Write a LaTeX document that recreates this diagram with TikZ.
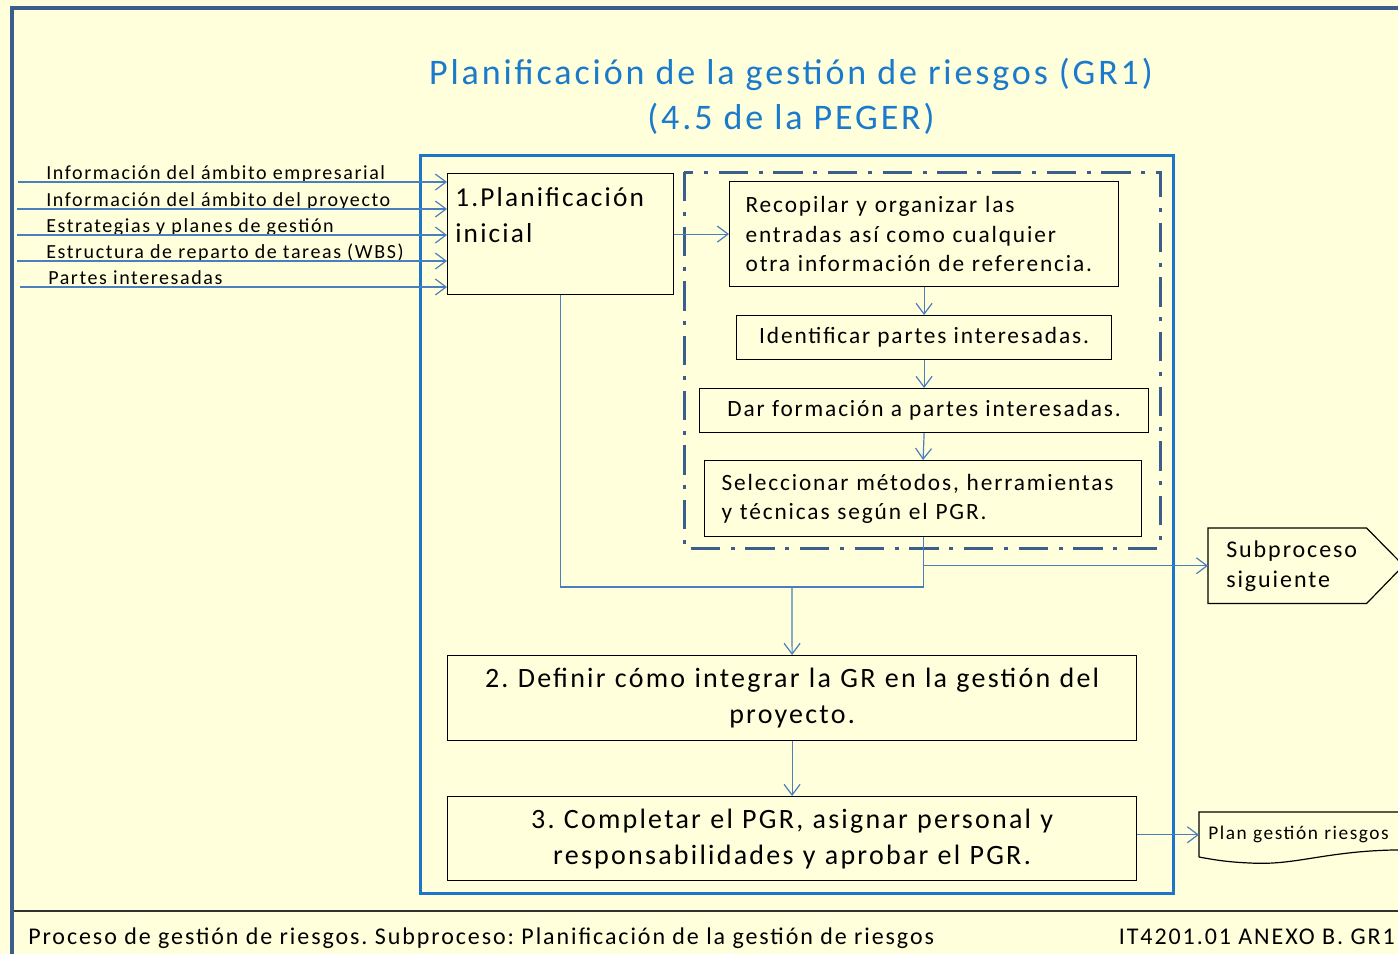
\documentclass[tikz,border=0pt]{standalone}
\usepackage{fontspec}
\setmainfont{Carlito}[LetterSpace=8]
\usetikzlibrary{arrows.meta}
\frenchspacing

\definecolor{fondo}{HTML}{FFFFDC}
\definecolor{titulo}{HTML}{1A7ACC}
\definecolor{marco}{HTML}{3B5E8C}
\definecolor{azul}{HTML}{1B75C9}
\definecolor{linea}{HTML}{4A7EBF}

\tikzset{
    caja/.style={draw=black, line width=0.9pt, inner sep=0pt},
    flecha/.style={draw=linea, line width=0.9pt, -{Straight Barb[length=8pt,width=12pt]}},
    conector/.style={draw=linea, line width=0.9pt},
    entrada/.style={anchor=base west, inner sep=0pt, font=\fontsize{15pt}{16pt}\selectfont},
}

\begin{document}
\begin{tikzpicture}[x=0.75pt, y=-0.75pt]

        \useasboundingbox (0, 0) rectangle (1398, 954);
        \fill[fondo] (0, 0) rectangle (1398, 954);

        \draw[marco, line width=3pt] (12, 954) -- (12, 8) -- (1398, 8);
        \draw[black!80, line width=1.5pt] (14, 911) -- (1398, 911);

        \node[titulo, align=center, font=\fontsize{27pt}{34pt}\selectfont] (tit) at (791, 96)
            {Planificación de la gestión de riesgos (GR1)\\(4.5 de la PEGER)};

        \draw[azul, line width=2.25pt] (420, 155) rectangle (1173, 893);
        \draw[marco, line width=2.25pt, dash pattern=on 22pt off 8pt on 3pt off 8pt]
            (684, 172) rectangle (1160, 548);

        % caja de planificacion inicial
        \node[caja, anchor=north west, minimum width=169.5pt, minimum height=90.75pt] (inicial) at (447, 173) {};
        \node[anchor=north west, align=left, inner xsep=6pt, inner ysep=11pt, font=\fontsize{20.5pt}{27pt}\selectfont]
            (inicialtxt) at (inicial.north west) {1.Planificación\\inicial};

        \begin{scope}[every node/.append style={font=\fontsize{17.5pt}{22pt}\selectfont}]
            \node[caja, anchor=north west, text width=267.75pt, inner xsep=12pt, minimum height=78.75pt, align=left]
                (recop) at (729, 181) {Recopilar y organizar las\\entradas así como cualquier\\otra información de referencia.};
            \node[caja, anchor=north west, minimum width=281.25pt, minimum height=33pt]
                (ident) at (736, 315) {Identificar partes interesadas.};
            \node[caja, anchor=north west, minimum width=336.75pt, minimum height=33pt]
                (dar) at (699, 388) {Dar formación a partes interesadas.};
            \node[caja, anchor=north west, text width=302.25pt, inner xsep=12.75pt, minimum height=57pt, align=left]
                (selec) at (704, 460) {Seleccionar métodos, herramientas\\y técnicas según el PGR.};
        \end{scope}

        \begin{scope}[every node/.append style={font=\fontsize{21pt}{27pt}\selectfont}]
            \node[caja, anchor=north west, text width=516.75pt, minimum height=63.75pt, align=center]
                (defin) at (447, 655) {2. Definir cómo integrar la GR en la gestión del\\proyecto.};
            \node[caja, anchor=north west, text width=516.75pt, minimum height=63pt, align=center]
                (compl) at (447, 796) {3. Completar el PGR, asignar personal y\\responsabilidades y aprobar el PGR.};
        \end{scope}

        % salidas
        \node[anchor=north west, text width=91.5pt, inner xsep=13.5pt, minimum height=56.25pt, align=left,
            font=\fontsize{18pt}{22.5pt}\selectfont] (sub) at (1208, 528) {Subproceso\\siguiente};
        \draw[caja] (sub.north west) -- (sub.north east) -- (1403.5, 565.5) -- (sub.south east) -- (sub.south west) -- cycle;

        \node[anchor=north west, text width=152.25pt, inner xsep=6.75pt, minimum height=33.75pt, align=left,
            font=\fontsize{14.5pt}{16pt}\selectfont] (pgr) at (1199, 812) {Plan gestión riesgos};
        \draw[caja] (1199, 857) -- (1199, 812) -- (1420, 812) -- (1420, 850)
            .. controls (1330, 848) and (1300, 866) .. (1250, 863)
            .. controls (1225, 862) and (1210, 859) .. (1199, 857);

        % entradas
        \coordinate (e1) at (18, 182);
        \coordinate (e2) at (17, 209);
        \coordinate (e3) at (17, 235);
        \coordinate (e4) at (17, 261);
        \coordinate (e5) at (20, 287);
        \node[entrada] (l1) at (46, 179) {Información del ámbito empresarial};
        \node[entrada] (l2) at (46, 206) {Información del ámbito del proyecto};
        \node[entrada] (l3) at (46, 232) {Estrategias y planes de gestión};
        \node[entrada] (l4) at (46, 258) {Estructura de reparto de tareas (WBS)};
        \node[entrada] (l5) at (48, 284) {Partes interesadas};
        \draw[flecha] (e1) -- (e1 -| inicial.west);
        \draw[flecha] (e2) -- (e2 -| inicial.west);
        \draw[flecha] (e3) -- (e3 -| inicial.west);
        \draw[flecha] (e4) -- (e4 -| inicial.west);
        \draw[flecha] (e5) -- (e5 -| inicial.west);

        \draw[flecha] (inicial.east) -- (recop.west);
        \draw[flecha] (recop.south) -- (ident.north);
        \draw[flecha] (ident.south) -- (dar.north);
        \draw[flecha] (dar.south) -- (selec.north);

        \coordinate (union) at (792, 587);
        \draw[conector] (inicial.south) |- (union) -| (selec.south);
        \draw[flecha] (union) -- (defin.north);
        \draw[flecha] (defin.south) -- (compl.north);
        \draw[flecha] (selec.south |- sub.west) -- (sub.west);
        \draw[flecha] (compl.east |- pgr.west) -- (pgr.west);

        \node[anchor=base west, inner sep=0pt, font=\fontsize{18pt}{20pt}\selectfont] (pie) at (28, 944)
            {Proceso de gestión de riesgos. Subproceso: Planificación de la gestión de riesgos};
        \node[anchor=base east, inner sep=0pt, font=\fontsize{18pt}{20pt}\selectfont] (codigo) at (1395, 944)
            {IT4201.01 ANEXO B. GR1};
    \end{tikzpicture}
\end{document}
